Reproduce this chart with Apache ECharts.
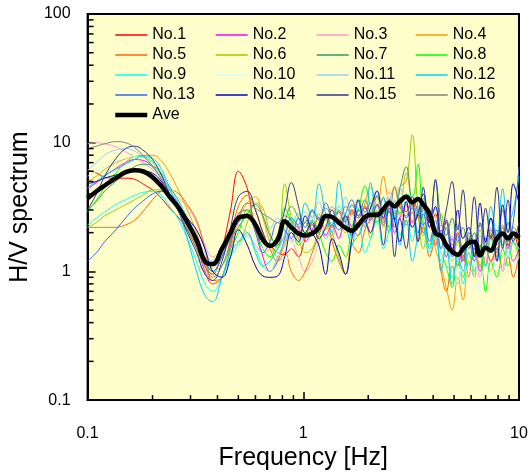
<!DOCTYPE html>
<html><head><meta charset="utf-8">
<script src="https://cdn.jsdelivr.net/npm/echarts@6/dist/echarts.min.js"></script>
<style>html,body{margin:0;padding:0;background:#fff}#c{width:531px;height:476px}</style>
</head><body><div id="c"></div>
<script>
// Frequency grid [Hz]
const FREQ = [0.10, 0.11, 0.12, 0.135, 0.15, 0.165, 0.18, 0.20, 0.22, 0.24, 0.265, 0.29, 0.32, 0.35, 0.38, 0.42, 0.46, 0.50,
  0.55, 0.60, 0.65, 0.70, 0.76, 0.82, 0.88, 0.95, 1.02, 1.10, 1.18, 1.27, 1.36, 1.46, 1.57, 1.68, 1.80, 1.93,
  2.05, 2.20, 2.35, 2.50, 2.65, 2.80, 3.00, 3.20, 3.40, 3.60, 3.85, 4.10, 4.35, 4.60, 4.90, 5.20, 5.50, 5.85, 6.20, 6.60, 7.00, 7.40, 7.90, 8.40, 8.90, 9.40, 10.0];

const NO1 = [6.1, 5.8, 5.4, 5.3, 5.3, 5.2, 4.8, 4.3, 3.7, 3.1, 2.6, 2.1, 1.6, 1.1, 0.95, 1.5, 3.0, 6.0,
  4.4, 2.1, 1.7, 1.6, 1.4, 1.35, 1.5, 1.3, 1.8, 2.3, 2.0, 2.6, 2.2, 2.9, 2.4, 3.0, 2.6, 3.2,
  2.6, 3.3, 2.8, 3.6, 2.5, 3.4, 2.9, 3.8, 2.6, 3.1, 2.2, 2.8, 1.9, 2.4, 1.5, 2.0, 1.3, 1.8, 1.2, 1.6, 1.1, 1.9, 1.4, 2.2, 1.5, 2.0, 1.4];
const NO2 = [4.4, 4.9, 5.5, 6.3, 7.0, 7.4, 7.3, 6.5, 5.2, 4.0, 3.0, 2.3, 1.6, 1.0, 0.8, 0.9, 1.6, 2.8,
  3.0, 2.2, 1.3, 1.0, 1.2, 1.8, 2.6, 2.2, 1.7, 2.1, 2.6, 1.9, 2.3, 1.8, 2.7, 2.2, 1.9, 2.5,
  2.0, 2.9, 2.3, 3.1, 2.0, 2.6, 3.3, 2.4, 2.9, 2.0, 2.5, 1.6, 2.1, 1.3, 1.8, 1.1, 1.5, 0.9, 1.4, 1.0, 1.7, 1.2, 1.5, 1.0, 1.6, 1.2, 1.5];
const NO3 = [9.8, 10.0, 9.8, 9.3, 8.5, 7.8, 7.0, 6.2, 5.3, 4.4, 3.7, 3.2, 2.4, 1.6, 1.3, 1.5, 2.0, 2.3,
  2.0, 1.6, 1.4, 1.5, 1.9, 2.2, 1.8, 1.3, 1.0, 1.2, 1.7, 2.3, 1.9, 2.5, 2.1, 2.8, 2.3, 2.9,
  2.4, 3.2, 2.6, 2.9, 3.6, 2.7, 3.2, 2.5, 3.0, 2.2, 2.7, 1.8, 2.3, 1.4, 1.9, 1.2, 1.6, 1.1, 1.5, 0.9, 1.3, 1.0, 1.4, 1.1, 1.6, 1.2, 1.4];
const NO4 = [5.0, 5.5, 6.2, 7.0, 7.5, 7.8, 8.0, 8.0, 7.2, 5.8, 4.2, 3.0, 2.0, 1.2, 0.8, 0.9, 1.5, 2.5,
  3.4, 3.8, 2.6, 1.7, 1.3, 1.6, 2.2, 1.8, 2.4, 1.9, 2.8, 2.1, 3.2, 2.4, 2.0, 2.9, 2.3, 3.4,
  4.5, 3.2, 5.5, 3.6, 4.6, 3.1, 5.8, 3.4, 2.7, 1.9, 2.5, 1.5, 1.1, 0.75, 0.5, 0.9, 0.6, 1.2, 0.9, 1.5, 1.1, 2.0, 1.4, 2.3, 1.6, 1.9, 1.7];
const NO5 = [2.2, 2.2, 2.2, 2.2, 2.3, 2.5, 2.9, 3.6, 4.2, 4.3, 4.0, 3.3, 2.5, 1.5, 0.85, 0.9, 1.8, 3.2,
  3.9, 3.0, 2.0, 1.5, 1.2, 1.4, 1.0, 0.85, 1.0, 1.4, 1.9, 2.6, 1.7, 1.2, 0.95, 1.6, 1.4, 2.1,
  2.6, 3.8, 2.5, 4.2, 2.8, 3.4, 2.3, 2.9, 1.7, 2.2, 1.3, 1.8, 1.0, 0.7, 1.1, 0.8, 1.3, 0.9, 1.5, 1.1, 1.8, 1.2, 1.5, 1.0, 1.3, 0.9, 1.4];
const NO6 = [2.2, 2.4, 2.7, 3.0, 3.3, 3.6, 3.9, 4.3, 4.3, 3.8, 3.0, 2.2, 1.5, 1.0, 1.1, 1.6, 1.9, 1.7,
  2.4, 3.4, 3.1, 2.0, 1.5, 4.8, 2.6, 1.8, 1.4, 1.5, 2.1, 2.5, 2.0, 1.3, 0.95, 1.6, 1.9, 2.5,
  1.8, 3.0, 2.2, 3.6, 2.6, 4.5, 5.0, 11.5, 3.0, 1.5, 2.4, 1.8, 2.8, 1.6, 1.2, 1.7, 1.3, 1.9, 1.4, 2.1, 1.5, 1.8, 1.3, 2.2, 1.6, 1.9, 1.8];
const NO7 = [3.0, 3.5, 4.2, 5.0, 5.8, 6.5, 6.8, 6.6, 5.8, 4.6, 3.5, 2.6, 1.8, 1.2, 1.0, 1.3, 1.8, 2.2,
  2.8, 3.3, 2.7, 1.9, 1.6, 2.4, 3.2, 2.6, 2.0, 2.5, 2.1, 2.8, 2.3, 3.0, 2.5, 3.3, 2.7, 3.6,
  2.9, 3.9, 2.8, 3.5, 2.6, 4.3, 6.5, 3.3, 2.7, 3.7, 2.4, 5.0, 2.5, 1.9, 2.6, 1.7, 2.2, 1.5, 2.0, 1.3, 1.8, 1.4, 2.1, 1.6, 2.4, 1.8, 2.0];
const NO8 = [2.9, 3.6, 4.5, 5.8, 7.0, 7.8, 7.8, 7.0, 5.6, 4.3, 3.3, 2.4, 1.7, 1.2, 1.0, 1.1, 1.5, 2.0,
  3.0, 2.2, 1.5, 1.3, 1.7, 3.1, 2.4, 1.6, 1.9, 2.5, 2.0, 1.4, 1.2, 1.6, 1.3, 2.2, 3.0, 4.6,
  3.2, 2.4, 3.0, 2.2, 3.5, 2.8, 4.0, 3.8, 6.8, 2.4, 1.6, 2.2, 1.4, 1.1, 0.75, 1.2, 0.9, 1.4, 1.0, 1.6, 0.7, 1.2, 0.9, 1.5, 1.1, 1.7, 1.3];
const NO9 = [2.3, 2.6, 2.9, 3.3, 3.6, 3.9, 4.1, 4.2, 3.9, 3.2, 2.5, 1.8, 1.2, 0.8, 0.7, 0.9, 1.3, 1.6,
  1.9, 1.5, 1.1, 1.0, 1.3, 1.7, 2.2, 2.8, 2.4, 3.0, 2.6, 1.8, 2.3, 3.2, 2.6, 1.9, 2.3, 1.4,
  1.8, 2.5, 1.5, 2.1, 2.8, 1.9, 2.5, 1.7, 3.2, 2.2, 1.4, 2.0, 1.2, 1.6, 0.9, 1.4, 0.8, 1.2, 0.95, 1.5, 1.1, 1.8, 1.3, 2.0, 1.4, 1.7, 1.5];
const NO10 = [5.5, 6.0, 6.6, 7.2, 7.6, 7.8, 7.6, 6.9, 5.9, 4.7, 3.6, 2.7, 1.9, 1.3, 1.0, 1.1, 1.4, 1.8,
  2.2, 1.8, 1.5, 1.7, 1.4, 1.2, 1.5, 2.0, 1.6, 1.3, 1.8, 2.4, 2.9, 2.2, 3.4, 2.5, 3.0, 2.3,
  2.9, 3.6, 2.6, 4.2, 3.0, 3.7, 2.6, 3.4, 2.3, 2.9, 1.8, 2.4, 1.4, 1.0, 1.4, 0.8, 1.2, 0.9, 1.3, 0.7, 1.1, 0.85, 1.3, 1.0, 1.5, 1.1, 1.3];
const NO11 = [6.1, 7.0, 8.0, 8.8, 9.0, 8.6, 7.8, 6.6, 5.4, 4.3, 3.4, 2.6, 1.9, 1.4, 1.2, 1.4, 1.9, 2.4,
  2.8, 2.2, 1.8, 2.1, 2.6, 2.0, 1.7, 2.3, 2.9, 2.4, 3.5, 2.7, 3.2, 2.5, 3.8, 2.9, 3.4, 2.6,
  3.2, 4.3, 3.0, 3.8, 2.7, 4.6, 3.3, 4.0, 2.9, 3.5, 2.4, 3.1, 2.0, 2.6, 1.7, 2.3, 1.5, 2.0, 1.3, 1.9, 1.4, 2.2, 1.6, 1.9, 1.3, 1.7, 1.5];
const NO12 = [4.5, 5.0, 5.6, 6.2, 6.8, 7.4, 7.9, 7.6, 6.2, 4.4, 2.9, 1.8, 1.0, 0.65, 0.58, 0.9, 1.4, 1.7,
  2.0, 1.4, 1.1, 1.2, 1.5, 1.9, 2.6, 2.3, 3.4, 2.6, 4.8, 2.8, 2.0, 5.0, 2.4, 1.6, 3.6, 2.2,
  4.9, 2.6, 3.8, 2.0, 3.0, 1.6, 2.5, 1.2, 1.9, 3.0, 1.5, 2.2, 1.0, 1.6, 0.8, 1.3, 1.0, 1.8, 1.2, 2.4, 1.5, 3.2, 1.9, 4.4, 2.3, 3.0, 5.5];
const NO13 = [1.2, 1.4, 1.7, 2.1, 2.6, 3.1, 3.5, 4.0, 4.2, 4.0, 3.3, 2.5, 1.7, 1.2, 1.0, 1.3, 1.9, 2.4,
  2.8, 2.0, 1.4, 1.7, 2.4, 2.1, 1.8, 2.6, 2.2, 3.0, 2.5, 3.4, 2.6, 2.1, 2.8, 3.6, 2.7, 3.1,
  2.5, 3.3, 2.4, 2.9, 2.2, 3.7, 2.6, 3.1, 2.0, 2.8, 1.7, 2.5, 1.5, 2.2, 1.3, 1.9, 1.2, 1.7, 1.5, 2.3, 1.7, 2.6, 1.8, 3.0, 1.6, 2.4, 6.5];
const NO14 = [4.8, 5.0, 5.3, 5.6, 5.8, 6.0, 6.0, 5.8, 5.0, 4.0, 3.2, 2.6, 2.1, 1.5, 1.0, 0.9, 1.3, 2.1,
  1.6, 1.1, 0.92, 0.9, 0.92, 1.3, 2.0, 1.7, 2.7, 2.0, 1.6, 0.95, 1.8, 1.4, 0.95, 1.8, 3.6, 2.4,
  3.1, 4.2, 2.6, 3.6, 2.5, 1.7, 3.5, 2.2, 2.8, 4.0, 2.4, 3.2, 1.8, 2.5, 1.4, 3.0, 1.8, 2.2, 1.3, 3.4, 1.7, 2.6, 1.2, 3.3, 2.0, 4.8, 3.4];
const NO15 = [3.0, 4.0, 5.5, 7.5, 9.0, 9.4, 8.8, 7.4, 5.6, 4.0, 2.9, 2.0, 1.4, 0.95, 0.85, 1.2, 2.2, 3.8,
  4.2, 3.0, 2.0, 1.6, 1.9, 3.0, 4.9, 3.2, 2.0, 2.4, 1.8, 2.2, 3.0, 2.3, 2.7, 1.9, 3.0, 2.5,
  2.0, 2.8, 1.6, 3.4, 1.3, 2.6, 1.5, 3.5, 1.7, 4.5, 2.2, 5.2, 1.9, 3.0, 5.0, 2.1, 4.3, 1.6, 3.8, 1.4, 3.1, 1.8, 4.5, 1.5, 3.6, 1.7, 2.4];
const NO16 = [9.0, 9.4, 9.8, 10.2, 10.0, 9.2, 8.0, 6.6, 5.2, 3.9, 2.9, 2.1, 1.5, 1.1, 0.9, 1.1, 1.7, 2.6,
  3.4, 3.1, 2.8, 2.6, 2.4, 2.7, 2.5, 2.2, 2.4, 2.9, 2.6, 3.1, 2.7, 2.4, 3.2, 2.8, 3.5, 2.9,
  3.4, 2.6, 3.7, 2.9, 4.5, 3.2, 2.7, 3.8, 2.9, 2.3, 3.0, 2.2, 1.8, 2.5, 1.6, 2.2, 1.4, 2.0, 1.7, 2.4, 1.6, 2.1, 1.5, 1.9, 1.7, 2.2, 1.9];
const AVE = [3.7, 4.2, 4.65, 5.3, 5.9, 6.1, 6.0, 5.4, 4.6, 3.8, 3.1, 2.4, 1.76, 1.2, 1.14, 1.5, 2.0, 2.6,
  2.7, 2.3, 1.76, 1.58, 1.76, 2.45, 2.2, 1.97, 1.9, 1.97, 2.18, 2.7, 2.65, 2.4, 2.18, 2.07, 2.3, 2.65,
  2.75, 2.75, 3.05, 3.4, 3.2, 3.5, 3.8, 3.45, 3.65, 3.3, 2.8, 1.97, 1.9, 1.6, 1.42, 1.35, 1.5, 1.67, 1.7, 1.33, 1.53, 1.45, 1.8, 1.97, 1.8, 1.97, 1.83];

const NAMES = ['No.1','No.2','No.3','No.4','No.5','No.6','No.7','No.8','No.9','No.10','No.11','No.12','No.13','No.14','No.15','No.16'];
const COLORS = ['#FF0000','#FF00FF','#FF99CC','#FF9900','#FF6600','#99CC00','#339966','#00FF00','#00FFFF','#CCFFFF','#99CCFF','#00CCFF','#3366FF','#0000CC','#333399','#808080'];
const X_MINOR = [0.2,0.3,0.4,0.5,0.6,0.7,0.8,0.9,2,3,4,5,6,7,8,9];
const Y_MINOR = [0.2,0.3,0.4,0.5,0.6,0.7,0.8,0.9,2,3,4,5,6,7,8,9,20,30,40,50,60,70,80,90];

const SERIES_VALUES = [NO1,NO2,NO3,NO4,NO5,NO6,NO7,NO8,NO9,NO10,NO11,NO12,NO13,NO14,NO15,NO16];
const FONT = '"Liberation Sans", Arial, sans-serif';

const chart = echarts.init(document.getElementById('c'), null, {renderer: 'canvas'});
const series = SERIES_VALUES.map((vals, i) => ({
  name: NAMES[i], type: 'line', symbol: 'none', showSymbol: false, smooth: 0.4,
  data: FREQ.map((f, j) => [f, vals[j]]),
  lineStyle: {width: 1, color: COLORS[i]}, itemStyle: {color: COLORS[i]}, z: 2
}));
series.push({
  name: 'Ave', type: 'line', symbol: 'none', showSymbol: false, smooth: 0.4,
  data: FREQ.map((f, j) => [f, AVE[j]]),
  lineStyle: {width: 4.5, color: '#000'}, itemStyle: {color: '#000'}, z: 3
});

const COLS = [['No.1','No.5','No.9','No.13','Ave'], ['No.2','No.6','No.10','No.14'], ['No.3','No.7','No.11','No.15'], ['No.4','No.8','No.12','No.16']];
const COL_LEFT = [113, 215, 316, 415];
const fmt = v => String(+(+v).toPrecision(3));

chart.setOption({
  animation: false,
  backgroundColor: '#ffffff',
  grid: {left: 82, top: 14, right: 12, bottom: 72, show: true, backgroundColor: '#FFFFCC', borderColor: '#000', borderWidth: 2},
  legend: COLS.map((c, k) => ({
    orient: 'vertical', left: COL_LEFT[k], top: 27, padding: 0,
    itemWidth: 32, itemHeight: 14, itemGap: 4, selectedMode: false,
    itemStyle: {opacity: 0, borderWidth: 0},
    data: c.map(n => n === 'Ave' ? {name: n, lineStyle: {width: 4.5, color: '#000'}} : {name: n, lineStyle: {width: 1.3}}),
    textStyle: {fontFamily: FONT, fontSize: 16, color: '#000', lineHeight: 16}
  })),
  xAxis: {
    type: 'log', logBase: 10, min: 0.1, max: 10,
    axisLine: {show: true, onZero: false, lineStyle: {color: '#000', width: 2}},
    axisTick: {show: true, inside: true, length: 8, lineStyle: {color: '#000', width: 1.5}},
    axisLabel: {margin: 25, fontFamily: FONT, fontSize: 16, color: '#000', formatter: fmt},
    splitLine: {show: false},
    name: 'Frequency [Hz]', nameLocation: 'middle', nameGap: 33,
    nameTextStyle: {fontFamily: FONT, fontSize: 25, color: '#000'}
  },
  yAxis: {
    type: 'log', logBase: 10, min: 0.1, max: 100,
    axisLine: {show: true, onZero: false, lineStyle: {color: '#000', width: 2}},
    axisTick: {show: true, inside: true, length: 8, lineStyle: {color: '#000', width: 1.5}},
    axisLabel: {margin: 17, fontFamily: FONT, fontSize: 16, color: '#000', formatter: fmt},
    splitLine: {show: false},
    name: 'H/V spectrum', nameLocation: 'middle', nameGap: 46,
    nameTextStyle: {fontFamily: FONT, fontSize: 25, color: '#000'}
  },
  series: series
});

// minor ticks placed through the axes' own scales
const yBottom = chart.convertToPixel({yAxisIndex: 0}, 0.1);
const xLeft = chart.convertToPixel({xAxisIndex: 0}, 0.1);
const g = [];
X_MINOR.forEach(v => {
  const x = chart.convertToPixel({xAxisIndex: 0}, v);
  g.push({type: 'line', z: 10, shape: {x1: x, y1: yBottom, x2: x, y2: yBottom - 5}, style: {stroke: '#000', lineWidth: 1.5}});
});
Y_MINOR.forEach(v => {
  const y = chart.convertToPixel({yAxisIndex: 0}, v);
  g.push({type: 'line', z: 10, shape: {x1: xLeft, y1: y, x2: xLeft + 6, y2: y}, style: {stroke: '#000', lineWidth: 1.5}});
});
chart.setOption({graphic: g});
</script>
</body></html>
